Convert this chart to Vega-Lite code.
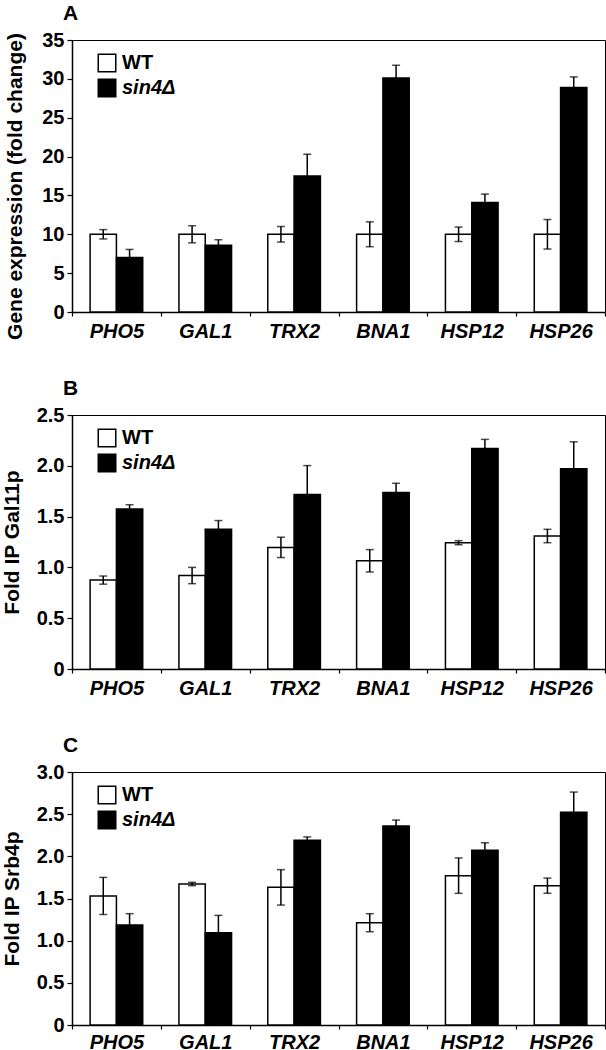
{
  "$schema": "https://vega.github.io/schema/vega-lite/v6.json",
  "padding": {"left": 0, "top": 2, "right": 0, "bottom": 0},
  "background": "white",
  "config": {
    "font": "Liberation Sans",
    "view": {"stroke": "black", "strokeWidth": 1},
    "axis": {"grid": false, "domainColor": "black", "domainWidth": 1.5, "tickColor": "black", "tickWidth": 1.2, "labelColor": "black", "titleColor": "black", "labelFont": "Liberation Sans", "titleFont": "Liberation Sans", "labelFontWeight": "bold", "titleFontWeight": "bold", "labelFontSize": 20, "titleFontSize": 21, "labelOverlap": false},
    "title": {"font": "Liberation Sans", "fontSize": 21, "fontWeight": "bold", "color": "black"}
  },
  "data": {"values": [
    {"panel": "A", "gene": "PHO5", "strain": "WT", "value": 10.0, "lo": 9.4, "hi": 10.6},
    {"panel": "A", "gene": "PHO5", "strain": "sin4Δ", "value": 7.0, "lo": 5.95, "hi": 8.05},
    {"panel": "A", "gene": "GAL1", "strain": "WT", "value": 10.0, "lo": 8.9, "hi": 11.1},
    {"panel": "A", "gene": "GAL1", "strain": "sin4Δ", "value": 8.6, "lo": 7.9, "hi": 9.3},
    {"panel": "A", "gene": "TRX2", "strain": "WT", "value": 10.0, "lo": 9.0, "hi": 11.0},
    {"panel": "A", "gene": "TRX2", "strain": "sin4Δ", "value": 17.5, "lo": 14.7, "hi": 20.3},
    {"panel": "A", "gene": "BNA1", "strain": "WT", "value": 10.0, "lo": 8.4, "hi": 11.6},
    {"panel": "A", "gene": "BNA1", "strain": "sin4Δ", "value": 30.1, "lo": 28.45, "hi": 31.75},
    {"panel": "A", "gene": "HSP12", "strain": "WT", "value": 10.0, "lo": 9.07, "hi": 10.93},
    {"panel": "A", "gene": "HSP12", "strain": "sin4Δ", "value": 14.1, "lo": 13.03, "hi": 15.17},
    {"panel": "A", "gene": "HSP26", "strain": "WT", "value": 10.0, "lo": 8.1, "hi": 11.9},
    {"panel": "A", "gene": "HSP26", "strain": "sin4Δ", "value": 28.9, "lo": 27.55, "hi": 30.25},
    {"panel": "B", "gene": "PHO5", "strain": "WT", "value": 0.875, "lo": 0.835, "hi": 0.915},
    {"panel": "B", "gene": "PHO5", "strain": "sin4Δ", "value": 1.575, "lo": 1.533, "hi": 1.617},
    {"panel": "B", "gene": "GAL1", "strain": "WT", "value": 0.92, "lo": 0.84, "hi": 1.0},
    {"panel": "B", "gene": "GAL1", "strain": "sin4Δ", "value": 1.375, "lo": 1.289, "hi": 1.461},
    {"panel": "B", "gene": "TRX2", "strain": "WT", "value": 1.197, "lo": 1.097, "hi": 1.297},
    {"panel": "B", "gene": "TRX2", "strain": "sin4Δ", "value": 1.718, "lo": 1.434, "hi": 2.002},
    {"panel": "B", "gene": "BNA1", "strain": "WT", "value": 1.065, "lo": 0.955, "hi": 1.175},
    {"panel": "B", "gene": "BNA1", "strain": "sin4Δ", "value": 1.738, "lo": 1.648, "hi": 1.828},
    {"panel": "B", "gene": "HSP12", "strain": "WT", "value": 1.243, "lo": 1.223, "hi": 1.263},
    {"panel": "B", "gene": "HSP12", "strain": "sin4Δ", "value": 2.17, "lo": 2.08, "hi": 2.26},
    {"panel": "B", "gene": "HSP26", "strain": "WT", "value": 1.309, "lo": 1.243, "hi": 1.375},
    {"panel": "B", "gene": "HSP26", "strain": "sin4Δ", "value": 1.972, "lo": 1.708, "hi": 2.236},
    {"panel": "C", "gene": "PHO5", "strain": "WT", "value": 1.53, "lo": 1.31, "hi": 1.75},
    {"panel": "C", "gene": "PHO5", "strain": "sin4Δ", "value": 1.186, "lo": 1.052, "hi": 1.32},
    {"panel": "C", "gene": "GAL1", "strain": "WT", "value": 1.672, "lo": 1.652, "hi": 1.692},
    {"panel": "C", "gene": "GAL1", "strain": "sin4Δ", "value": 1.095, "lo": 0.89, "hi": 1.3},
    {"panel": "C", "gene": "TRX2", "strain": "WT", "value": 1.632, "lo": 1.422, "hi": 1.842},
    {"panel": "C", "gene": "TRX2", "strain": "sin4Δ", "value": 2.19, "lo": 2.15, "hi": 2.23},
    {"panel": "C", "gene": "BNA1", "strain": "WT", "value": 1.213, "lo": 1.106, "hi": 1.32},
    {"panel": "C", "gene": "BNA1", "strain": "sin4Δ", "value": 2.36, "lo": 2.29, "hi": 2.43},
    {"panel": "C", "gene": "HSP12", "strain": "WT", "value": 1.771, "lo": 1.561, "hi": 1.981},
    {"panel": "C", "gene": "HSP12", "strain": "sin4Δ", "value": 2.071, "lo": 1.981, "hi": 2.161},
    {"panel": "C", "gene": "HSP26", "strain": "WT", "value": 1.652, "lo": 1.562, "hi": 1.742},
    {"panel": "C", "gene": "HSP26", "strain": "sin4Δ", "value": 2.522, "lo": 2.282, "hi": 2.762}
  ]},
  "bounds": "flush",
  "spacing": 103,
  "resolve": {"scale": {"y": "independent", "x": "independent"}, "legend": {"fill": "independent"}, "axis": {"y": "independent"}},
  "vconcat": [
    {
      "width": 533, "height": 272,
      "title": {"text": "A", "anchor": "start", "frame": "group", "dx": -9, "offset": -11, "baseline": "alphabetic", "fontSize": 21},
      "transform": [{"filter": "datum.panel === 'A'"}],
      "encoding": {
        "x": {"field": "gene", "type": "nominal", "sort": ["PHO5", "GAL1", "TRX2", "BNA1", "HSP12", "HSP26"], "scale": {"paddingInner": 0, "paddingOuter": 0}, "axis": {"title": null, "labelAngle": 0, "labelFontStyle": "italic", "tickBand": "extent", "tickSize": 4, "labelPadding": 5}},
        "xOffset": {"field": "strain", "type": "nominal", "sort": ["WT", "sin4Δ"], "scale": {"paddingInner": 0, "paddingOuter": 0.688}}
      },
      "layer": [
        {"mark": {"type": "bar", "stroke": "black", "strokeWidth": 1.5},
         "encoding": {
           "y": {"field": "value", "type": "quantitative", "scale": {"domain": [0, 35], "nice": false}, "axis": {"title": "Gene expression (fold change)", "titleY": 146, "values": [0, 5, 10, 15, 20, 25, 30, 35], "tickSize": 5, "labelPadding": 3, "titlePadding": 16, "labelOverlap": false}},
           "fill": {"field": "strain", "type": "nominal", "scale": {"domain": ["WT", "sin4Δ"], "range": ["white", "black"]},
             "legend": {"title": null, "orient": "none", "legendX": 25, "legendY": 13, "padding": 0, "symbolType": "square", "symbolSize": 306, "symbolStrokeColor": "black", "symbolStrokeWidth": 1.5, "symbolOpacity": 1, "labelFontSize": 20, "labelFontWeight": "bold", "labelColor": "black", "labelOffset": 5, "rowPadding": 1,
               "encode": {"labels": {"update": {"fontStyle": {"signal": "datum.label === 'WT' ? 'normal' : 'italic'"}}}}}}
         }},
        {"mark": {"type": "rule", "color": "black", "strokeWidth": 1.5}, "encoding": {"y": {"field": "lo", "type": "quantitative", "axis": {"title": "Gene expression (fold change)", "titleY": 146, "values": [0, 5, 10, 15, 20, 25, 30, 35], "tickSize": 5, "labelPadding": 3, "titlePadding": 16, "labelOverlap": false}}, "y2": {"field": "hi"}}},
        {"mark": {"type": "tick", "color": "black", "thickness": 1.5, "size": 8}, "encoding": {"y": {"field": "hi", "type": "quantitative", "axis": {"title": "Gene expression (fold change)", "titleY": 146, "values": [0, 5, 10, 15, 20, 25, 30, 35], "tickSize": 5, "labelPadding": 3, "titlePadding": 16, "labelOverlap": false}}}},
        {"mark": {"type": "tick", "color": "black", "thickness": 1.5, "size": 8}, "encoding": {"y": {"field": "lo", "type": "quantitative", "axis": {"title": "Gene expression (fold change)", "titleY": 146, "values": [0, 5, 10, 15, 20, 25, 30, 35], "tickSize": 5, "labelPadding": 3, "titlePadding": 16, "labelOverlap": false}}}}
      ]
    },
    {
      "width": 533, "height": 254,
      "title": {"text": "B", "anchor": "start", "frame": "group", "dx": -9, "offset": -11, "baseline": "alphabetic", "fontSize": 21},
      "transform": [{"filter": "datum.panel === 'B'"}],
      "encoding": {
        "x": {"field": "gene", "type": "nominal", "sort": ["PHO5", "GAL1", "TRX2", "BNA1", "HSP12", "HSP26"], "scale": {"paddingInner": 0, "paddingOuter": 0}, "axis": {"title": null, "labelAngle": 0, "labelFontStyle": "italic", "tickBand": "extent", "tickSize": 4, "labelPadding": 5}},
        "xOffset": {"field": "strain", "type": "nominal", "sort": ["WT", "sin4Δ"], "scale": {"paddingInner": 0, "paddingOuter": 0.688}}
      },
      "layer": [
        {"mark": {"type": "bar", "stroke": "black", "strokeWidth": 1.5},
         "encoding": {
           "y": {"field": "value", "type": "quantitative", "scale": {"domain": [0, 2.5], "nice": false}, "axis": {"title": "Fold IP Gal11p", "values": [0, 0.5, 1, 1.5, 2, 2.5], "labelExpr": "datum.value == 0 ? '0' : format(datum.value, '.1f')", "tickSize": 5, "labelPadding": 3, "titlePadding": 14}},
           "fill": {"field": "strain", "type": "nominal", "scale": {"domain": ["WT", "sin4Δ"], "range": ["white", "black"]},
             "legend": {"title": null, "orient": "none", "legendX": 25, "legendY": 13, "padding": 0, "symbolType": "square", "symbolSize": 306, "symbolStrokeColor": "black", "symbolStrokeWidth": 1.5, "symbolOpacity": 1, "labelFontSize": 20, "labelFontWeight": "bold", "labelColor": "black", "labelOffset": 5, "rowPadding": 1,
               "encode": {"labels": {"update": {"fontStyle": {"signal": "datum.label === 'WT' ? 'normal' : 'italic'"}}}}}}
         }},
        {"mark": {"type": "rule", "color": "black", "strokeWidth": 1.5}, "encoding": {"y": {"field": "lo", "type": "quantitative", "axis": {"title": "Fold IP Gal11p", "values": [0, 0.5, 1, 1.5, 2, 2.5], "labelExpr": "datum.value == 0 ? '0' : format(datum.value, '.1f')", "tickSize": 5, "labelPadding": 3, "titlePadding": 14}}, "y2": {"field": "hi"}}},
        {"mark": {"type": "tick", "color": "black", "thickness": 1.5, "size": 8}, "encoding": {"y": {"field": "hi", "type": "quantitative", "axis": {"title": "Fold IP Gal11p", "values": [0, 0.5, 1, 1.5, 2, 2.5], "labelExpr": "datum.value == 0 ? '0' : format(datum.value, '.1f')", "tickSize": 5, "labelPadding": 3, "titlePadding": 14}}}},
        {"mark": {"type": "tick", "color": "black", "thickness": 1.5, "size": 8}, "encoding": {"y": {"field": "lo", "type": "quantitative", "axis": {"title": "Fold IP Gal11p", "values": [0, 0.5, 1, 1.5, 2, 2.5], "labelExpr": "datum.value == 0 ? '0' : format(datum.value, '.1f')", "tickSize": 5, "labelPadding": 3, "titlePadding": 14}}}}
      ]
    },
    {
      "width": 533, "height": 253,
      "title": {"text": "C", "anchor": "start", "frame": "group", "dx": -9, "offset": -11, "baseline": "alphabetic", "fontSize": 21},
      "transform": [{"filter": "datum.panel === 'C'"}],
      "encoding": {
        "x": {"field": "gene", "type": "nominal", "sort": ["PHO5", "GAL1", "TRX2", "BNA1", "HSP12", "HSP26"], "scale": {"paddingInner": 0, "paddingOuter": 0}, "axis": {"title": null, "labelAngle": 0, "labelFontStyle": "italic", "tickBand": "extent", "tickSize": 4, "labelPadding": 3}},
        "xOffset": {"field": "strain", "type": "nominal", "sort": ["WT", "sin4Δ"], "scale": {"paddingInner": 0, "paddingOuter": 0.688}}
      },
      "layer": [
        {"mark": {"type": "bar", "stroke": "black", "strokeWidth": 1.5},
         "encoding": {
           "y": {"field": "value", "type": "quantitative", "scale": {"domain": [0, 3], "nice": false}, "axis": {"title": "Fold IP Srb4p", "values": [0, 0.5, 1, 1.5, 2, 2.5, 3], "labelExpr": "datum.value == 0 ? '0' : format(datum.value, '.1f')", "tickSize": 5, "labelPadding": 3, "titlePadding": 14}},
           "fill": {"field": "strain", "type": "nominal", "scale": {"domain": ["WT", "sin4Δ"], "range": ["white", "black"]},
             "legend": {"title": null, "orient": "none", "legendX": 25, "legendY": 13, "padding": 0, "symbolType": "square", "symbolSize": 306, "symbolStrokeColor": "black", "symbolStrokeWidth": 1.5, "symbolOpacity": 1, "labelFontSize": 20, "labelFontWeight": "bold", "labelColor": "black", "labelOffset": 5, "rowPadding": 1,
               "encode": {"labels": {"update": {"fontStyle": {"signal": "datum.label === 'WT' ? 'normal' : 'italic'"}}}}}}
         }},
        {"mark": {"type": "rule", "color": "black", "strokeWidth": 1.5}, "encoding": {"y": {"field": "lo", "type": "quantitative", "axis": {"title": "Fold IP Srb4p", "values": [0, 0.5, 1, 1.5, 2, 2.5, 3], "labelExpr": "datum.value == 0 ? '0' : format(datum.value, '.1f')", "tickSize": 5, "labelPadding": 3, "titlePadding": 14}}, "y2": {"field": "hi"}}},
        {"mark": {"type": "tick", "color": "black", "thickness": 1.5, "size": 8}, "encoding": {"y": {"field": "hi", "type": "quantitative", "axis": {"title": "Fold IP Srb4p", "values": [0, 0.5, 1, 1.5, 2, 2.5, 3], "labelExpr": "datum.value == 0 ? '0' : format(datum.value, '.1f')", "tickSize": 5, "labelPadding": 3, "titlePadding": 14}}}},
        {"mark": {"type": "tick", "color": "black", "thickness": 1.5, "size": 8}, "encoding": {"y": {"field": "lo", "type": "quantitative", "axis": {"title": "Fold IP Srb4p", "values": [0, 0.5, 1, 1.5, 2, 2.5, 3], "labelExpr": "datum.value == 0 ? '0' : format(datum.value, '.1f')", "tickSize": 5, "labelPadding": 3, "titlePadding": 14}}}}
      ]
    }
  ]
}
